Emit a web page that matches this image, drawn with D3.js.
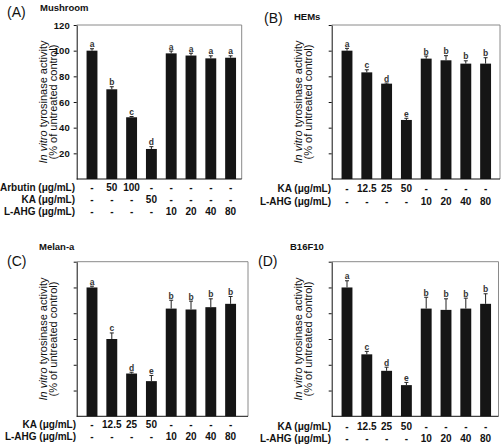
<!DOCTYPE html>
<html>
<head>
<meta charset="utf-8">
<script src="https://cdn.jsdelivr.net/npm/d3@7"></script>
<style>
  html, body { margin: 0; padding: 0; background: #ffffff; }
  svg { display: block; font-family: "Liberation Sans", Arial, Helvetica, sans-serif; }
</style>
</head>
<body>
<svg id="chart" width="502" height="446"></svg>
<script>
// ---------------- DATA ----------------
const categories = ["c1", "c2", "c3", "c4", "c5", "c6", "c7", "c8"];

const mushroomValues  = [100, 69.9, 48.1, 23.4, 97.9, 96.2, 94.0, 94.5];
const mushroomErrors  = [1.5, 2.0, 0.6, 1.8, 1.8, 1.8, 2.0, 1.5];
const mushroomLetters = ["a", "b", "c", "d", "a", "a", "a", "a"];

const hemsValues  = [100, 83.1, 74.3, 46.0, 93.8, 92.5, 89.9, 89.9];
const hemsErrors  = [1.8, 2.0, 0.5, 1.3, 2.0, 3.6, 2.2, 4.6];
const hemsLetters = ["a", "c", "d", "e", "b", "b", "b", "b"];

const melanValues  = [100, 60.0, 33.2, 27.3, 83.6, 82.9, 84.7, 87.3];
const melanErrors  = [1.0, 4.7, 1.0, 4.4, 6.5, 6.5, 6.5, 5.7];
const melanLetters = ["a", "c", "d", "e", "b", "b", "b", "b"];

const b16Values  = [100, 48.1, 35.3, 24.2, 83.6, 82.6, 83.6, 87.3];
const b16Errors  = [5.2, 2.3, 2.8, 2.1, 8.8, 8.6, 8.1, 7.8];
const b16Letters = ["a", "c", "d", "e", "b", "b", "b", "b"];

const yTicks = [20, 40, 60, 80, 100, 120];
const yTickLabels = ["20", "40", "60", "80", "100", "120"];

const arbutinRow = ["-", "50", "100", "-", "-", "-", "-", "-"];
const kaRowMushroom = ["-", "-", "-", "50", "-", "-", "-", "-"];
const kaRow = ["-", "12.5", "25", "50", "-", "-", "-", "-"];
const lahgRow = ["-", "-", "-", "-", "10", "20", "40", "80"];

const titles = ["Mushroom", "HEMs", "Melan-a", "B16F10"];
const panelTags = ["(A)", "(B)", "(C)", "(D)"];

// ---------------- LAYOUT ----------------
const svg = d3.select("#chart");

const panels = [
  { tag: panelTags[0], title: titles[0], values: mushroomValues, errors: mushroomErrors, letters: mushroomLetters,
    rows: [["Arbutin (\u03bcg/mL)", arbutinRow], ["KA (\u03bcg/mL)", kaRowMushroom], ["L-AHG (\u03bcg/mL)", lahgRow]],
    box: { left: 76.7, right: 241.7, top: 25, bottom: 179 }, showLabels: true,
    tagPos: [7, 17], titlePos: [40, 11], rowY: [191, 203, 215], rowLabelX: 75 },
  { tag: panelTags[1], title: titles[1], values: hemsValues, errors: hemsErrors, letters: hemsLetters,
    rows: [["KA (\u03bcg/mL)", kaRow], ["L-AHG (\u03bcg/mL)", lahgRow]],
    box: { left: 331.7, right: 500, top: 25, bottom: 179 }, showLabels: false,
    tagPos: [264, 23], titlePos: [294, 20], rowY: [192, 205], rowLabelX: 331 },
  { tag: panelTags[2], title: titles[2], values: melanValues, errors: melanErrors, letters: melanLetters,
    rows: [["KA (\u03bcg/mL)", kaRow], ["L-AHG (\u03bcg/mL)", lahgRow]],
    box: { left: 76.7, right: 248, top: 261.7, bottom: 416.3 }, showLabels: false,
    tagPos: [7, 266], titlePos: [39, 250], rowY: [428, 440], rowLabelX: 76 },
  { tag: panelTags[3], title: titles[3], values: b16Values, errors: b16Errors, letters: b16Letters,
    rows: [["KA (\u03bcg/mL)", kaRow], ["L-AHG (\u03bcg/mL)", lahgRow]],
    box: { left: 331.7, right: 498.5, top: 261.7, bottom: 416.3 }, showLabels: false,
    tagPos: [258, 266], titlePos: [290, 250], rowY: [430, 442], rowLabelX: 331 }
];

panels.forEach(p => {
  const b = p.box;
  const g = svg.append("g");

  const x = d3.scaleBand()
    .domain(categories)
    .range([b.left + 5.4, b.left + 5.4 + 8 * 19.8])
    .paddingInner(0.45)
    .paddingOuter(0.225);

  const y = d3.scaleLinear().domain([0, 120]).range([b.bottom, b.top]);

  // frame: top and right in grey
  g.append("line").attr("x1", b.left).attr("x2", b.right).attr("y1", b.top).attr("y2", b.top)
    .attr("stroke", "#8a8a8a").attr("stroke-width", 1);
  g.append("line").attr("x1", b.right).attr("x2", b.right).attr("y1", b.top).attr("y2", b.bottom)
    .attr("stroke", "#8a8a8a").attr("stroke-width", 1);

  // bars
  g.selectAll("rect.bar").data(p.values).enter().append("rect")
    .attr("class", "bar")
    .attr("x", (d, i) => x(categories[i]))
    .attr("width", x.bandwidth())
    .attr("y", d => y(d))
    .attr("height", d => y(0) - y(d))
    .attr("fill", "#151515");

  // error bars
  const cx = i => x(categories[i]) + x.bandwidth() / 2;
  g.selectAll("line.err").data(p.values).enter().append("line")
    .attr("x1", (d, i) => cx(i)).attr("x2", (d, i) => cx(i))
    .attr("y1", d => y(d)).attr("y2", (d, i) => y(d + p.errors[i]))
    .attr("stroke", "#222").attr("stroke-width", 1);
  g.selectAll("line.cap").data(p.values).enter().append("line")
    .attr("x1", (d, i) => cx(i) - 2).attr("x2", (d, i) => cx(i) + 2)
    .attr("y1", (d, i) => y(d + p.errors[i])).attr("y2", (d, i) => y(d + p.errors[i]))
    .attr("stroke", "#222").attr("stroke-width", 1);

  // significance letters
  g.selectAll("text.letter").data(p.letters).enter().append("text")
    .attr("x", (d, i) => cx(i))
    .attr("y", (d, i) => y(p.values[i] + p.errors[i]) - 1.5)
    .attr("text-anchor", "middle")
    .attr("font-size", 8.5).attr("font-weight", "bold").attr("fill", "#333")
    .text(d => d);

  // axes
  const yAxis = d3.axisLeft(y).tickValues(yTicks).tickSize(3).tickSizeOuter(0)
    .tickFormat((d, i) => p.showLabels ? yTickLabels[i] : "");
  const ya = g.append("g").attr("transform", `translate(${b.left},0)`).call(yAxis);
  ya.select(".domain").attr("stroke", "#111");
  ya.selectAll(".tick line").attr("stroke", "#111");
  ya.selectAll(".tick text").attr("font-size", 9.5).attr("font-weight", "bold")
    .attr("fill", "#111").attr("font-family", "Liberation Sans, Arial, sans-serif").attr("dx", -1);

  const xAxis = d3.axisBottom(x).tickSize(0).tickFormat("");
  const xa = g.append("g").attr("transform", `translate(0,${b.bottom})`).call(xAxis);
  xa.select(".domain").attr("d", `M${b.left},0H${b.right}`).attr("stroke", "#111");

  // y label
  const midY = (b.top + b.bottom) / 2;
  const lx = b.left - 30;
  const lab = g.append("text")
    .attr("transform", `translate(${lx},${midY}) rotate(-90)`)
    .attr("text-anchor", "middle").attr("font-size", 11).attr("fill", "#111");
  lab.append("tspan").attr("font-style", "italic").text("In vitro");
  lab.append("tspan").text(" tyrosinase activity");
  g.append("text")
    .attr("transform", `translate(${lx + 10.5},${midY}) rotate(-90)`)
    .attr("text-anchor", "middle").attr("font-size", 11).attr("fill", "#111")
    .text("(% of untreated control)");

  // tag and title
  g.append("text").attr("x", p.tagPos[0]).attr("y", p.tagPos[1])
    .attr("font-size", 14).attr("fill", "#111").text(p.tag);
  g.append("text").attr("x", p.titlePos[0]).attr("y", p.titlePos[1])
    .attr("font-size", 9.5).attr("font-weight", "bold").attr("fill", "#111").text(p.title);

  // treatment table
  p.rows.forEach((row, r) => {
    const ry = p.rowY[r];
    g.append("text").attr("x", p.rowLabelX).attr("y", ry)
      .attr("text-anchor", "end").attr("font-size", 10).attr("font-weight", "bold")
      .attr("fill", "#111").text(row[0]);
    g.selectAll(null).data(row[1]).enter().append("text")
      .attr("x", (d, i) => cx(i)).attr("y", ry)
      .attr("text-anchor", "middle").attr("font-size", 10).attr("font-weight", "bold")
      .attr("fill", "#111").text(d => d);
  });
});
</script>
</body>
</html>
